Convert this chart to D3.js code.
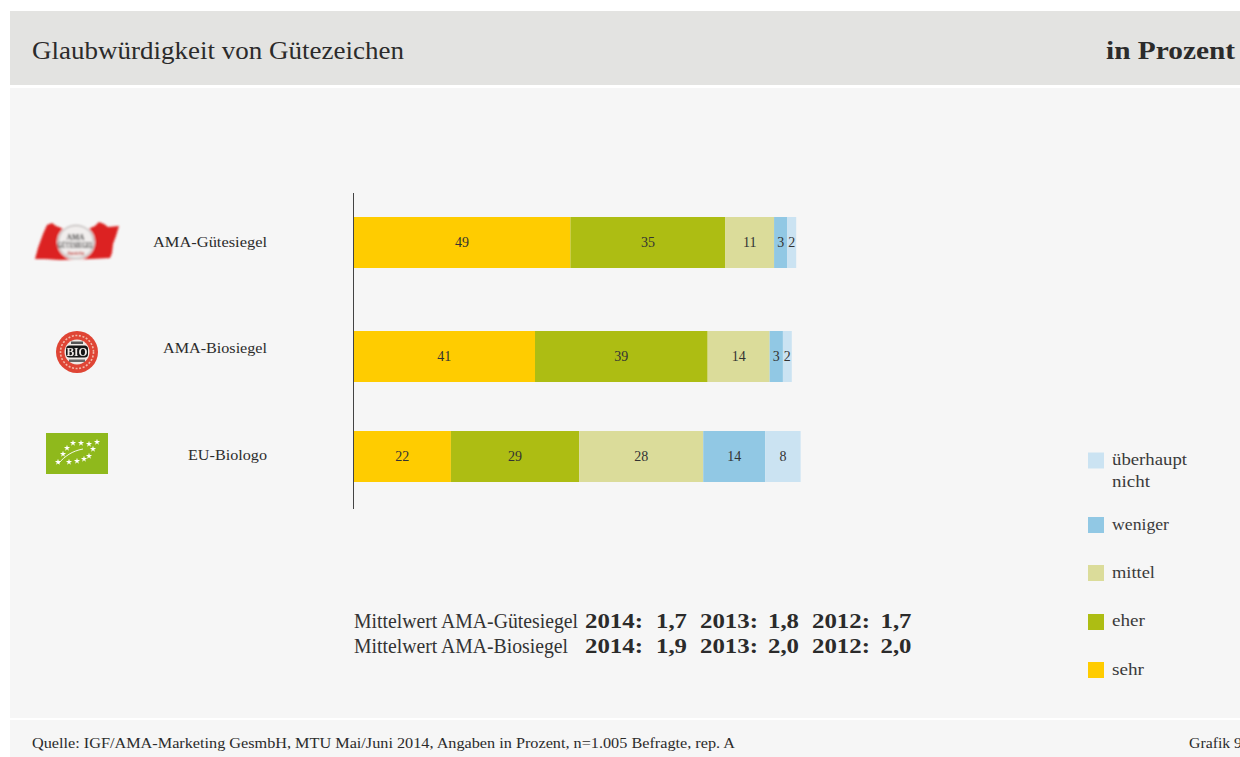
<!DOCTYPE html>
<html lang="de">
<head>
<meta charset="utf-8">
<title>Glaubwürdigkeit von Gütezeichen</title>
<script src="https://cdn.jsdelivr.net/npm/d3@7"></script>
<style>
  html, body { margin: 0; padding: 0; background: #fff; overflow: hidden; }
  svg { display: block; font-family: "Liberation Serif", serif; }
</style>
</head>
<body>
<svg id="chart" width="1240" height="757"></svg>
<script>
// Survey shares per seal, in percent
const categories = ["AMA-Gütesiegel", "AMA-Biosiegel", "EU-Biologo"];
const answers = ["sehr", "eher", "mittel", "weniger", "überhaupt nicht"];
const sehr = [49, 41, 22];
const eher = [35, 39, 29];
const mittel = [11, 14, 28];
const weniger = [3, 3, 14];
const ueberhaupt = [2, 2, 8];
const answerColors = ["#ffcc00", "#adbd13", "#dbdc9a", "#91c8e4", "#cbe3f2"];

// Mean ratings per year
const meanLabels = ["Mittelwert AMA-Gütesiegel", "Mittelwert AMA-Biosiegel"];
const meanYears = ["2014:", "2013:", "2012:"];
const meanGuetesiegel = ["1,7", "1,8", "1,7"];
const meanBiosiegel = ["1,9", "2,0", "2,0"];

const titleText = "Glaubwürdigkeit von Gütezeichen";
const unitText = "in Prozent";
const sourceText = "Quelle: IGF/AMA-Marketing GesmbH, MTU Mai/Juni 2014, Angaben in Prozent, n=1.005 Befragte, rep. A";
const chartNumber = "Grafik 9";

const svg = d3.select("#chart");
const ink = "#2b2b2b";

// Places a text at a fixed width so the narrow setting of the report is kept
function label(parent, str, x, y, size, width, opts = {}) {
  const t = parent.append("text")
    .attr("x", x).attr("y", y)
    .attr("font-size", size)
    .attr("fill", opts.fill || ink)
    .attr("font-weight", opts.bold ? 700 : 400)
    .text(str);
  if (width) t.attr("textLength", width).attr("lengthAdjust", "spacingAndGlyphs");
  return t;
}

// Page panels
svg.append("rect").attr("x", 10).attr("y", 11).attr("width", 1230).attr("height", 74).attr("fill", "#e3e3e1");
svg.append("rect").attr("x", 10).attr("y", 88).attr("width", 1230).attr("height", 630).attr("fill", "#f6f6f6");
svg.append("rect").attr("x", 10).attr("y", 720).attr("width", 1230).attr("height", 37).attr("fill", "#f6f6f6");

label(svg, titleText, 32, 59, 25, 372);
label(svg, unitText, 1106, 59, 25, 129, { bold: true });
label(svg, sourceText, 32, 748, 14.5, 703);
label(svg, chartNumber, 1189, 748, 14.5, 53);

// Stacked bars
const x = d3.scaleLinear().domain([0, 100]).range([353.5, 796.2]);
const y = d3.scaleOrdinal().domain(categories).range([217, 331, 431]);
const barHeight = 51;

const rows = categories.map((c, i) => ({
  category: c,
  sehr: sehr[i], eher: eher[i], mittel: mittel[i],
  weniger: weniger[i], "überhaupt nicht": ueberhaupt[i]
}));
const color = d3.scaleOrdinal().domain(answers).range(answerColors);
const stacked = d3.stack().keys(answers)(rows);

const layers = svg.append("g").selectAll("g").data(stacked).join("g")
  .attr("fill", d => color(d.key));

layers.selectAll("rect").data(d => d).join("rect")
  .attr("x", d => x(d[0]))
  .attr("y", d => y(d.data.category))
  .attr("width", d => x(d[1]) - x(d[0]))
  .attr("height", barHeight);

layers.selectAll("text").data(d => d).join("text")
  .attr("x", d => (x(d[0]) + x(d[1])) / 2)
  .attr("y", d => y(d.data.category) + barHeight / 2 + 4.5)
  .attr("text-anchor", "middle")
  .attr("font-size", 14)
  .attr("fill", "#333")
  .text(d => d[1] - d[0]);

// Vertical base line
svg.append("line")
  .attr("x1", 353.5).attr("x2", 353.5).attr("y1", 193).attr("y2", 509)
  .attr("stroke", "#444").attr("stroke-width", 1);

// Category names, right aligned against the logo column
const nameBaselines = [247, 353, 460];
const nameWidths = [114, 104, 79];
categories.forEach((c, i) => {
  label(svg, c, 267 - nameWidths[i], nameBaselines[i], 15.5, nameWidths[i]);
});

// Soft edges for the small seal marks
const defs = svg.append("defs");
defs.append("filter").attr("id", "soft").attr("x", "-10%").attr("y", "-10%").attr("width", "120%").attr("height", "120%")
  .append("feGaussianBlur").attr("stdDeviation", 0.8);
defs.append("filter").attr("id", "mid").attr("x", "-10%").attr("y", "-10%").attr("width", "120%").attr("height", "120%")
  .append("feGaussianBlur").attr("stdDeviation", 0.6);
defs.append("filter").attr("id", "light").attr("x", "-5%").attr("y", "-5%").attr("width", "110%").attr("height", "110%")
  .append("feGaussianBlur").attr("stdDeviation", 0.3);

// AMA-Gütesiegel seal: red banner behind a pale oval
const guete = svg.append("g").attr("filter", "url(#soft)");
guete.append("path")
  .attr("d", "M35,259 L38,248 L43,234 L47,225 L52,223 L56,226 L64,229 L88,229 L95,226 L99,222 L104,224 L108,227 L119,226 L116,236 L113,244 L112,253 L110,258 L90,259 L60,260 L45,259 Z")
  .attr("fill", "#dc2320");
guete.append("ellipse").attr("cx", 76).attr("cy", 242).attr("rx", 19).attr("ry", 18).attr("fill", "#f1eeed");
guete.append("ellipse").attr("cx", 76).attr("cy", 242).attr("rx", 17.5).attr("ry", 16.5).attr("fill", "none").attr("stroke", "#aaa6a6").attr("stroke-width", 1);
guete.append("text").attr("x", 75.5).attr("y", 240).attr("text-anchor", "middle").attr("font-size", 7.5).attr("font-weight", 700).attr("fill", "#222").text("AMA");
guete.append("text").attr("x", 75.5).attr("y", 247.5).attr("text-anchor", "middle").attr("font-size", 7.5).attr("font-weight", 700).attr("fill", "#333").attr("textLength", 36).attr("lengthAdjust", "spacingAndGlyphs").text("GÜTESIEGEL");
guete.append("text").attr("x", 75.5).attr("y", 255).attr("text-anchor", "middle").attr("font-size", 5.5).attr("font-weight", 700).attr("fill", "#c2413c").text("Austria");

// AMA-Biosiegel seal: red ring around a black BIO band
const bio = svg.append("g").attr("filter", "url(#mid)");
bio.append("circle").attr("cx", 77).attr("cy", 352).attr("r", 21).attr("fill", "#df4534");
bio.append("circle").attr("cx", 77).attr("cy", 352).attr("r", 16.5).attr("fill", "none").attr("stroke", "#f3b9a9").attr("stroke-width", 1.6).attr("stroke-dasharray", "2 1.6");
bio.append("circle").attr("cx", 77).attr("cy", 352).attr("r", 12.5).attr("fill", "#efe9e5");
bio.append("rect").attr("x", 66).attr("y", 345.5).attr("width", 22).attr("height", 12).attr("rx", 3.5).attr("fill", "#141416");
bio.append("text").attr("x", 77).attr("y", 356).attr("text-anchor", "middle").attr("font-size", 11.5).attr("font-weight", 700).attr("fill", "#efe9e5").text("BIO");
bio.append("rect").attr("x", 71).attr("y", 341.5).attr("width", 12).attr("height", 2.5).attr("fill", "#555");
bio.append("rect").attr("x", 69).attr("y", 359.5).attr("width", 16).attr("height", 2.5).attr("fill", "#666");

// EU organic logo: stars forming a leaf on a green field
const eu = svg.append("g").attr("filter", "url(#light)");
eu.append("rect").attr("x", 46).attr("y", 433).attr("width", 62).attr("height", 41).attr("fill", "#8fb91c");
const leafStars = [[58, 462], [63, 454], [67, 448], [73, 443], [81, 443], [89, 444], [97, 442], [93, 449], [89, 456], [84, 459], [77, 461], [69, 462]];
const star = d3.symbol().type(d3.symbolStar).size(12);
eu.selectAll("path.star").data(leafStars).join("path")
  .attr("class", "star")
  .attr("transform", d => `translate(${d[0]},${d[1]})`)
  .attr("d", star)
  .attr("fill", "#fff");
eu.append("path").attr("d", "M58,464 C65,456 72,451 83,449").attr("fill", "none").attr("stroke", "#fff").attr("stroke-width", 0.9);

// Mean ratings below the bars
const meanTable = [meanGuetesiegel, meanBiosiegel];
const meanBaselines = [628, 653];
const meanLabelWidths = [224, 214];
const yearX = [585, 700, 812];
const valueX = [656, 768, 880.5];
meanLabels.forEach((m, r) => {
  label(svg, m, 354, meanBaselines[r], 20, meanLabelWidths[r], { fill: "#333" });
  meanYears.forEach((yr, k) => {
    label(svg, yr, yearX[k], meanBaselines[r], 21, 58, { bold: true });
    label(svg, meanTable[r][k], valueX[k], meanBaselines[r], 21, 31, { bold: true });
  });
});

// Legend, last answer on top
const legendTop = [452.5, 517, 565, 614, 662];
const legendBase = [465, 529.5, 578, 626, 675];
const legendOrder = answers.slice().reverse();
const legendWidths = { "überhaupt": 75, "nicht": 38, "weniger": 57, "mittel": 43, "eher": 33, "sehr": 32 };
legendOrder.forEach((a, i) => {
  svg.append("rect").attr("x", 1088).attr("y", legendTop[i]).attr("width", 16).attr("height", 16).attr("fill", color(a));
  a.split(" ").forEach((word, l) => {
    label(svg, word, 1112, legendBase[i] + l * 22, 16.5, legendWidths[word], { fill: "#3a3a3a" });
  });
});
</script>
</body>
</html>
